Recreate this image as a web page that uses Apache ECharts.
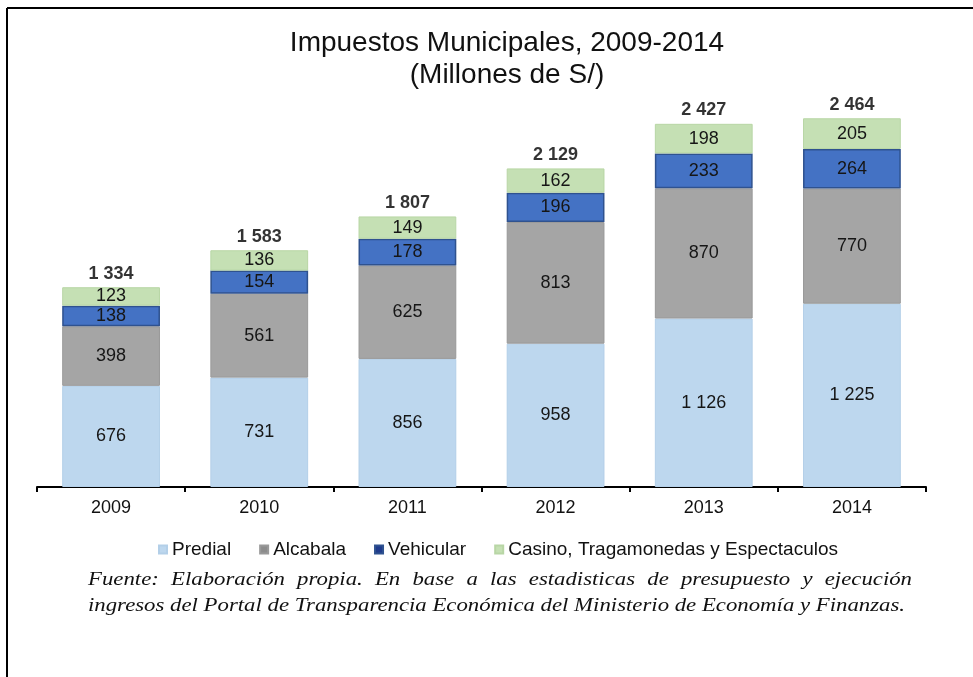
<!DOCTYPE html>
<html>
<head>
    <meta charset="utf-8">
    <title>Impuestos Municipales</title>
    <script src="https://cdn.jsdelivr.net/npm/echarts@6/dist/echarts.min.js"></script>
    <style>
        html, body { margin: 0; padding: 0; background: #fff; }
        #main { width: 973px; height: 677px; }
    </style>
</head>
<body>
<div id="main"></div>
<script type="text/javascript">
// datos (millones de S/)
var years = ['2009', '2010', '2011', '2012', '2013', '2014'];
var predial = [676, 731, 856, 958, 1126, 1225];
var alcabala = [398, 561, 625, 813, 870, 770];
var vehicular = [138, 154, 178, 196, 233, 264];
var casino = [123, 136, 149, 162, 198, 205];
var totals = [1334, 1583, 1807, 2129, 2427, 2464];

var note1 = 'Fuente: Elaboración propia. En base a las estadisticas de presupuesto y ejecución';
var note2 = 'ingresos del Portal de Transparencia Económica del Ministerio de Economía y Finanzas.';

function fmt(v) {
    return String(v).replace(/\B(?=(\d{3})+(?!\d))/g, ' ');
}

var myChart = echarts.init(document.getElementById('main'));

var insideLabel = {
    show: true,
    position: 'inside',
    fontSize: 18,
    fontFamily: '"Liberation Sans", Arial, sans-serif',
    color: '#161616',
    formatter: function (p) { return fmt(p.value); }
};

// nota al pie: primera linea justificada, palabra por palabra
function footnote() {
    var ctx = document.createElement('canvas').getContext('2d');
    var fs = 19;
    ctx.font = 'italic ' + fs + 'px "Liberation Serif"';
    var sx = (905 - 88) / ctx.measureText(note2).width;
    var st = {fontSize: fs, fontStyle: 'italic', fontFamily: '"Liberation Serif", serif', fill: '#111', verticalAlign: 'middle'};
    var els = [];
    els.push({type: 'text', x: 88, y: 606, scaleX: sx, style: Object.assign({text: note2}, st)});
    var words = note1.split(' ');
    var w = words.map(function (s) { return ctx.measureText(s).width * sx; });
    var sum = w.reduce(function (a, b) { return a + b; }, 0);
    var gap = (912 - 88 - sum) / (words.length - 1);
    var x = 88;
    for (var i = 0; i < words.length; i++) {
        els.push({type: 'text', x: x, y: 580, scaleX: sx, style: Object.assign({text: words[i]}, st)});
        x += w[i] + gap;
    }
    return els;
}

var frame = [
    {type: 'line', shape: {x1: 7, y1: 8, x2: 973, y2: 8}, style: {stroke: '#000', lineWidth: 2}},
    {type: 'line', shape: {x1: 7, y1: 8, x2: 7, y2: 677}, style: {stroke: '#000', lineWidth: 2}}
];

var option = {
    animation: false,
    backgroundColor: '#fff',
    title: {
        text: 'Impuestos Municipales, 2009-2014\n(Millones de S/)',
        left: 502,
        top: 22,
        textAlign: 'center',
        textStyle: {
            fontSize: 28,
            fontWeight: 'normal',
            fontFamily: '"Liberation Sans", Arial, sans-serif',
            color: '#111',
            lineHeight: 32
        }
    },
    legend: {
        data: [
            {name: 'Predial'},
            {name: 'Alcabala', itemStyle: {color: '#8c8c8c'}},
            {name: 'Vehicular', itemStyle: {color: '#1f3b8c'}},
            {name: 'Casino, Tragamonedas y Espectaculos'}
        ],
        left: 153,
        top: 535,
        icon: 'rect',
        itemWidth: 8,
        itemHeight: 8,
        itemGap: 28,
        textStyle: {fontSize: 19, color: '#111', fontFamily: '"Liberation Sans", Arial, sans-serif'}
    },
    grid: {left: 37, right: 47, top: 68, bottom: 190},
    xAxis: {
        type: 'category',
        data: years,
        axisLine: {lineStyle: {color: '#000', width: 2}},
        axisTick: {show: true, length: 5, lineStyle: {color: '#000', width: 2}},
        axisLabel: {fontSize: 18, color: '#111', margin: 12, fontFamily: '"Liberation Sans", Arial, sans-serif'}
    },
    yAxis: {
        type: 'value',
        min: 0,
        max: 2800,
        show: false,
        splitLine: {show: false}
    },
    series: [
        {
            name: 'Predial', type: 'bar', stack: 'total', barWidth: '66%',
            itemStyle: {color: '#bdd7ee', borderColor: '#b3cfe8', borderWidth: 1},
            label: insideLabel, data: predial
        },
        {
            name: 'Alcabala', type: 'bar', stack: 'total',
            itemStyle: {color: '#a5a5a5', borderColor: '#999', borderWidth: 1},
            label: insideLabel, data: alcabala
        },
        {
            name: 'Vehicular', type: 'bar', stack: 'total',
            itemStyle: {color: '#4472c4', borderColor: '#2f528f', borderWidth: 1.5},
            label: insideLabel, data: vehicular
        },
        {
            name: 'Casino, Tragamonedas y Espectaculos', type: 'bar', stack: 'total',
            itemStyle: {color: '#c5e0b4', borderColor: '#b8d6a5', borderWidth: 1},
            label: insideLabel, data: casino
        },
        {
            name: 'Total', type: 'scatter', data: totals,
            symbolSize: 1, itemStyle: {color: 'rgba(0,0,0,0)'}, silent: true,
            label: {
                show: true, position: 'top', distance: 4,
                fontSize: 18, fontWeight: 'bold', color: '#000',
                fontFamily: '"Liberation Sans", Arial, sans-serif',
                formatter: function (p) { return fmt(p.value); }
            }
        }
    ],
    graphic: frame.concat(footnote())
};

myChart.setOption(option);
</script>
</body>
</html>
